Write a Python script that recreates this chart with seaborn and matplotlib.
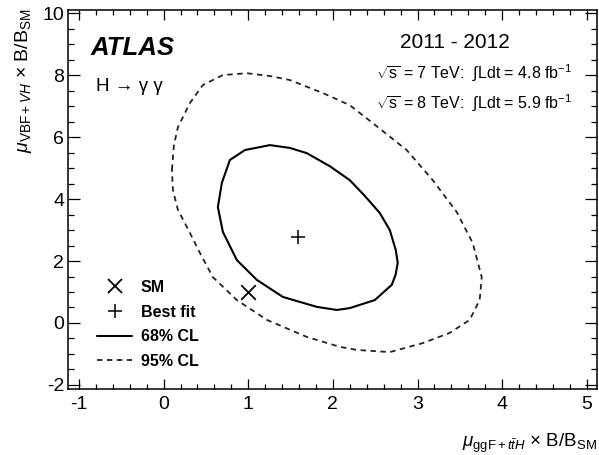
import numpy as np
import pandas as pd
import seaborn as sns
import matplotlib
matplotlib.use("Agg")
import matplotlib.pyplot as plt
from matplotlib.lines import Line2D
from matplotlib.ticker import MultipleLocator

# ---- data ----
cl68_x = [0.641, 0.688, 0.783, 0.960, 1.255, 1.491, 1.692, 1.963, 2.199, 2.377, 2.554,
          2.672, 2.743, 2.766, 2.740, 2.695, 2.495, 2.199, 2.046, 1.810, 1.409, 1.102, 0.865, 0.700]
cl68_y = [3.74, 4.52, 5.26, 5.58, 5.74, 5.65, 5.48, 5.06, 4.61, 4.10, 3.55,
          3.00, 2.35, 1.94, 1.55, 1.23, 0.74, 0.48, 0.42, 0.52, 0.84, 1.39, 2.03, 2.94]

cl95_x = [0.098, 0.122, 0.169, 0.311, 0.464, 0.700, 0.983, 1.255, 1.491, 1.881, 2.199,
          2.471, 2.872, 3.179, 3.463, 3.652, 3.758, 3.734, 3.616, 3.380, 3.061, 2.672,
          2.282, 2.081, 1.692, 1.220, 0.865, 0.582, 0.429, 0.275, 0.169, 0.110]
cl95_y = [4.94, 5.74, 6.32, 7.10, 7.68, 8.00, 8.06, 7.97, 7.84, 7.42, 7.03,
          6.45, 5.58, 4.61, 3.58, 2.58, 1.48, 0.74, 0.10, -0.32, -0.65, -0.94,
          -0.87, -0.77, -0.45, 0.10, 0.74, 1.48, 2.26, 3.10, 3.65, 4.29]

sm_point = (1.0, 1.0)
best_fit = (1.59, 2.77)

legend_labels = ["SM", "Best fit", "68% CL", "95% CL"]
x_ticks = [-1, 0, 1, 2, 3, 4, 5]
y_ticks = [-2, 0, 2, 4, 6, 8, 10]

# ---- style ----
sns.set_theme(style="ticks")
plt.rcParams["font.family"] = ["Liberation Sans", "DejaVu Sans"]
plt.rcParams["mathtext.fontset"] = "custom"
plt.rcParams["mathtext.rm"] = "Liberation Sans"
plt.rcParams["mathtext.it"] = "Liberation Sans:italic"
plt.rcParams["mathtext.bf"] = "Liberation Sans:bold"
plt.rcParams["mathtext.sf"] = "Liberation Sans"
plt.rcParams["text.color"] = "black"
plt.rcParams["xtick.color"] = "black"
plt.rcParams["ytick.color"] = "black"
plt.rcParams["xtick.labelcolor"] = "black"
plt.rcParams["ytick.labelcolor"] = "black"

fig = plt.figure(figsize=(5.99, 4.55), dpi=100)
ax = fig.add_axes([68.3 / 599, (455 - 389.3) / 455, (597 - 68.3) / 599, (389.3 - 10) / 455])

def closed(xs, ys):
    return pd.DataFrame({"x": list(xs) + [xs[0]], "y": list(ys) + [ys[0]]})

d68 = closed(cl68_x, cl68_y)
d95 = closed(cl95_x, cl95_y)

sns.lineplot(data=d95, x="x", y="y", sort=False, estimator=None, ax=ax,
             color="#222222", lw=1.3)
ax.lines[-1].set_dashes((3, 2.5))
sns.lineplot(data=d68, x="x", y="y", sort=False, estimator=None, ax=ax,
             color="black", lw=1.5)

sns.scatterplot(x=[sm_point[0]], y=[sm_point[1]], marker="x", s=110, color="black",
                linewidth=1.3, ax=ax, zorder=5)
sns.scatterplot(x=[best_fit[0]], y=[best_fit[1]], marker="+", s=100, color="black",
                linewidth=1.1, ax=ax, zorder=5)

ax.set_xlim(-1.126, 5.12)
ax.set_ylim(-2.14, 10.1)
ax.set_xticks(x_ticks)
ax.set_yticks(y_ticks)
ax.set_xticklabels([str(t) for t in x_ticks])
ax.set_yticklabels([str(t) for t in y_ticks])
ax.xaxis.set_minor_locator(MultipleLocator(0.2))
ax.yaxis.set_minor_locator(MultipleLocator(0.5))
ax.tick_params(which="both", direction="in", top=True, right=True, width=0.9, color="black",
               labelcolor="black")
ax.tick_params(axis="x", which="major", length=7.2, labelsize=14, pad=4.5)
ax.tick_params(axis="x", which="minor", length=3.6)
ax.tick_params(axis="y", which="major", length=8.6, labelsize=14, pad=3)
ax.tick_params(axis="y", which="minor", length=4.3)
for sp in ax.spines.values():
    sp.set_linewidth(1.1)
    sp.set_color("black")
ax.set_xlabel("")
ax.set_ylabel("")

# axis titles
fig.text(0.997, (455 - 447) / 455, r"$\mu_{\mathrm{ggF}+t\bar{t}H}$ $\times$ B/B$_{\mathrm{SM}}$",
         ha="right", va="baseline", fontsize=13.5)
fig.text(28 / 599, (455 - 8) / 455, r"$\mu_{\mathrm{VBF}+VH}$ $\times$ B/B$_{\mathrm{SM}}$",
         rotation=90, rotation_mode="anchor", ha="right", va="baseline", fontsize=14)

# annotations
fig.text(91 / 599, (455 - 55) / 455, "ATLAS", fontsize=18.5, fontweight="bold",
         fontstyle="italic", ha="left", va="baseline")
fig.text(96 / 599, (455 - 91) / 455, "H \u2192 \u03b3 \u03b3", fontsize=13.5,
         ha="left", va="baseline")
fig.text(455 / 599, (455 - 48) / 455, "2011 - 2012", fontsize=15, ha="center", va="baseline")
fig.text(376 / 599, (455 - 78) / 455,
         r"$\sqrt{\mathrm{s}}$ = 7 TeV:  $\int$Ldt = 4.8 fb$^{\mathrm{-1}}$",
         fontsize=11.5, ha="left", va="baseline")
fig.text(376 / 599, (455 - 108) / 455,
         r"$\sqrt{\mathrm{s}}$ = 8 TeV:  $\int$Ldt = 5.9 fb$^{\mathrm{-1}}$",
         fontsize=11.5, ha="left", va="baseline")

# legend
handles = [
    Line2D([], [], ls="none", marker="x", ms=10, mew=1.3, color="black"),
    Line2D([], [], ls="none", marker="+", ms=10, mew=1.1, color="black"),
    Line2D([], [], ls="-", lw=1.5, color="black"),
    Line2D([], [], ls=(0, (3, 2.5)), lw=1.3, color="#222222"),
]
ax.legend(handles, legend_labels, loc="upper left", bbox_to_anchor=(97 / 599, (455 - 280) / 455),
          bbox_transform=fig.transFigure, frameon=False, borderpad=0, borderaxespad=0,
          handlelength=2.2, handletextpad=0.55, labelspacing=0.6,
          prop={"weight": "bold", "size": 11.5})

fig.savefig("out.png", dpi=100)
